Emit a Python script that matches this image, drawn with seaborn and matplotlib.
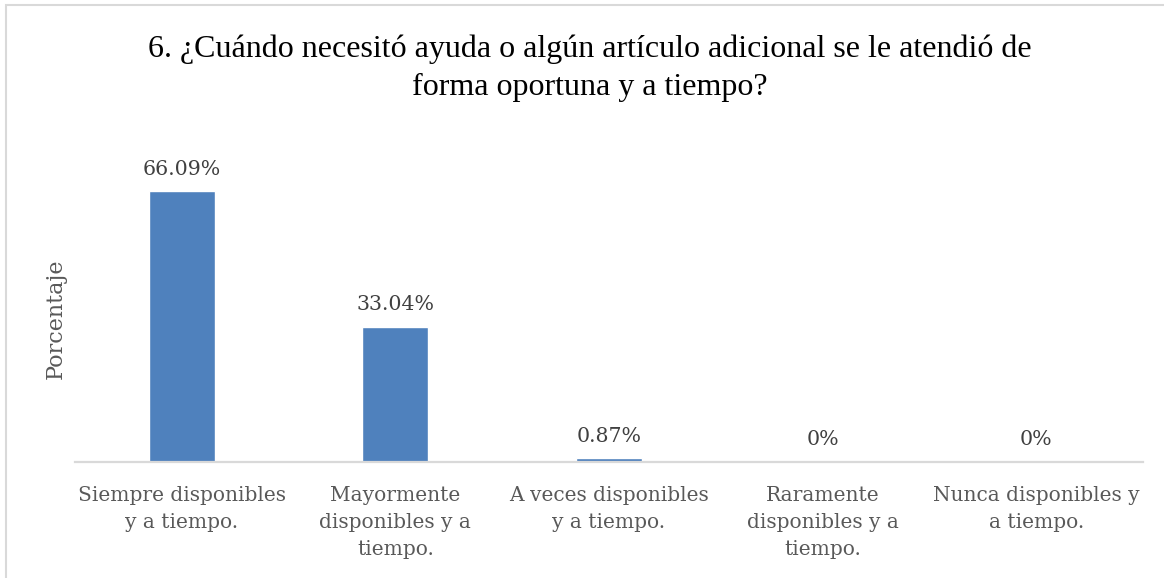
import matplotlib
matplotlib.use("Agg")
import matplotlib.pyplot as plt
import seaborn as sns
import pandas as pd
from matplotlib.patches import Rectangle

# Survey question 6: timely attention when help or an extra item was needed
title = "6. ¿Cuándo necesitó ayuda o algún artículo adicional se le atendió de\nforma oportuna y a tiempo?"
categories = [
    "Siempre disponibles y a tiempo.",
    "Mayormente disponibles y a tiempo.",
    "A veces disponibles y a tiempo.",
    "Raramente disponibles y a tiempo.",
    "Nunca disponibles y a tiempo.",
]
tick_labels = [
    "Siempre disponibles\ny a tiempo.",
    "Mayormente\ndisponibles y a\ntiempo.",
    "A veces disponibles\ny a tiempo.",
    "Raramente\ndisponibles y a\ntiempo.",
    "Nunca disponibles y\na tiempo.",
]
percentages = [66.09, 33.04, 0.87, 0, 0]
y_label = "Porcentaje"

sns.set_theme(style="white")
plt.rcParams["font.family"] = ["DejaVu Serif"]

df = pd.DataFrame({"categoria": categories, "porcentaje": percentages})

fig = plt.figure(figsize=(11.64, 5.78), dpi=100)
ax = fig.add_axes([0.0644, 0.2007, 0.9175, 0.4965])

sns.barplot(data=df, x="categoria", y="porcentaje", color="#4F81BD",
            saturation=1, width=0.31, ax=ax)

ax.set_ylim(0, 70)
ax.set_xlim(-0.5, len(categories) - 0.5)
ax.set_yticks([])
ax.set_xlabel("")
ax.set_ylabel(y_label, fontsize=16, color="#595959", labelpad=6)
ax.set_xticks(range(len(categories)))
ax.set_xticklabels(tick_labels, fontsize=14.5, color="#595959", linespacing=1.56)
ax.tick_params(axis="x", length=0, pad=17)

for side in ("top", "right", "left"):
    ax.spines[side].set_visible(False)
ax.spines["bottom"].set_color("#D9D9D9")
ax.spines["bottom"].set_linewidth(1.6)

ax.bar_label(ax.containers[0], labels=[f"{v:g}%" for v in percentages],
             padding=9, fontsize=14.8, color="#404040")

fig.text(0.507, 0.882, title, ha="center", va="center", fontsize=23,
         family="Liberation Serif", color="black", linespacing=1.42)

# chart area frame
fig.patches.append(Rectangle((6 / 1164, -0.1), 1.2, 1.1 - 5 / 578,
                             transform=fig.transFigure, fill=False,
                             edgecolor="#D9D9D9", linewidth=1.5))

fig.savefig("out.png", dpi=100, facecolor="white")
